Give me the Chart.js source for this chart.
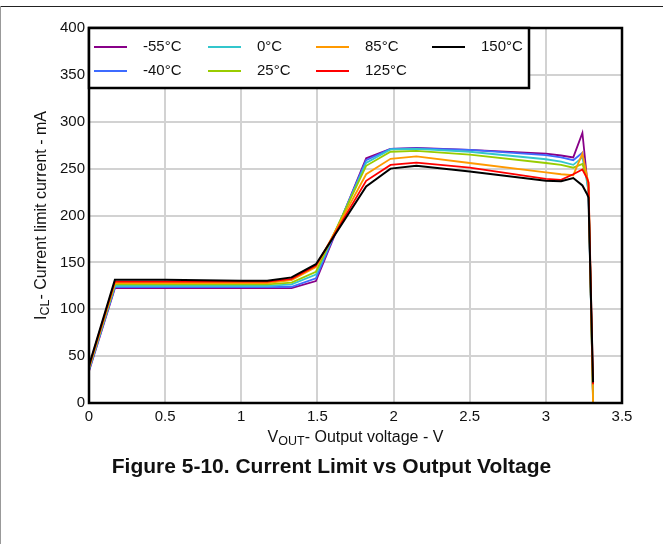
<!DOCTYPE html>
<html>
<head>
<meta charset="utf-8">
<script src="https://cdn.jsdelivr.net/npm/chart.js@4"></script>
<style>
  html, body { margin: 0; padding: 0; background: #fff; }
  #wrap { position: relative; width: 663px; height: 544px; overflow: hidden; }
  #topline { position: absolute; left: 0; top: 6px; width: 663px; height: 0; border-top: 1.5px solid #222; }
  #leftline { position: absolute; left: 0; top: 6px; width: 0; height: 538px; border-left: 1.5px solid #999; }
  #myChart { position: absolute; left: 0; top: 0; }
  #caption { position: absolute; left: 0; width: 663px; top: 454px; text-align: center;
             font: bold 21px "Liberation Sans", Arial, sans-serif; color: #111; }
</style>
</head>
<body>
<div id="wrap">
  <canvas id="myChart" width="663" height="544"></canvas>
  <div id="topline"></div>
  <div id="leftline"></div>
  <div id="caption">Figure 5-10. Current Limit vs Output Voltage</div>
</div>
<script>
// Output voltage (V) sample points
const volts = [0, 0.17, 0.5, 1.0, 1.17, 1.33, 1.49, 1.82, 1.98, 2.15, 2.5, 3.0, 3.1, 3.18, 3.24, 3.27, 3.28, 3.31];

// current limit (mA) per temperature
const labels = ['-55°C', '-40°C', '0°C', '25°C', '85°C', '125°C', '150°C'];
const cur_m55 = [34, 122.5, 122.5, 122.5, 122.5, 122.5, 130, 261, 271, 272, 270, 266, 264, 262, 288, 240, 228, 5];
const cur_m40 = [35, 123.5, 123.5, 123.5, 123.5, 124, 133, 259, 271, 271.5, 270, 264.5, 262, 259, 267, 238, 225, 5];
const cur_0   = [36, 125, 125, 125, 125, 126.5, 137, 256, 270.5, 271, 268, 260, 257.5, 254, 262, 236, 226, 3];
const cur_25  = [37, 126.5, 126.5, 126.5, 126.5, 128.5, 140, 253, 268, 269, 265, 256, 254, 251, 255, 240, 232, 0];
const cur_85  = [38, 128, 128, 128, 128, 131, 145, 244, 260.5, 263, 256, 246, 244, 243, 266, 242, 235, 0];
const cur_125 = [39, 129.5, 129.5, 129.5, 129.5, 132.5, 146.5, 237, 254, 256.5, 251, 239, 238, 244, 249, 240, 235, 20];
const cur_150 = [40, 131.5, 131.5, 130.5, 130.5, 134, 148, 231, 250, 253, 247, 237, 236.5, 240, 232, 223, 219, 22];

const colors = ['#880088', '#3D6BFF', '#33C6CC', '#99CC00', '#FF9900', '#FF0000', '#000000'];
const series = [cur_m55, cur_m40, cur_0, cur_25, cur_85, cur_125, cur_150];

const xTicks = [0, 0.5, 1, 1.5, 2, 2.5, 3, 3.5];
const yTicks = [0, 50, 100, 150, 200, 250, 300, 350, 400];

const FONT = '"Liberation Sans", Arial, sans-serif';

const datasets = series.map(function (s, i) {
  return {
    label: labels[i],
    data: s.map(function (v, j) { return { x: volts[j], y: v }; }),
    borderColor: colors[i],
    backgroundColor: colors[i],
    borderWidth: i == 6 ? 2 : 1.8,
    pointRadius: 0,
    tension: 0,
    order: series.length - i
  };
});

// frame, legend box and axis titles with subscripts
const decor = {
  id: 'decor',
  afterDraw(chart) {
    const ctx = chart.ctx;
    const a = chart.chartArea;
    ctx.save();
    ctx.strokeStyle = '#000';
    ctx.lineWidth = 2.5;
    ctx.strokeRect(a.left, a.top, a.right - a.left, a.bottom - a.top);

    // legend
    const lx = a.left, ly = a.top, lw = 440, lh = 60;
    ctx.fillStyle = '#fff';
    ctx.fillRect(lx, ly, lw, lh);
    ctx.strokeRect(lx, ly, lw, lh);
    const colX = [94, 208, 316, 432];
    const rowY = [47, 71];
    ctx.font = '15px ' + FONT;
    ctx.textBaseline = 'middle';
    chart.data.datasets.forEach(function (ds, i) {
      const x = colX[Math.floor(i / 2)], y = rowY[i % 2];
      ctx.strokeStyle = ds.borderColor;
      ctx.lineWidth = 2;
      ctx.beginPath();
      ctx.moveTo(x, y);
      ctx.lineTo(x + 33, y);
      ctx.stroke();
      ctx.fillStyle = '#111';
      ctx.fillText(ds.label, x + 49, y);
    });

    // x title
    ctx.fillStyle = '#111';
    ctx.textBaseline = 'alphabetic';
    const big = '16px ' + FONT, small = '12.5px ' + FONT;
    function parts(p) {
      let w = 0;
      p.forEach(function (q) { ctx.font = q[1]; w += ctx.measureText(q[0]).width; });
      return w;
    }
    const xt = [['V', big, 0], ['OUT', small, 3], ['- Output voltage - V', big, 0]];
    let w = parts(xt);
    let cx = (a.left + a.right) / 2 - w / 2;
    xt.forEach(function (q) {
      ctx.font = q[1];
      ctx.fillText(q[0], cx, 442 + q[2]);
      cx += ctx.measureText(q[0]).width;
    });

    // y title
    const yt = [['I', big, 0], ['CL', small, 3], ['- Current limit current - mA', big, 0]];
    w = parts(yt);
    ctx.translate(46, (a.top + a.bottom) / 2);
    ctx.rotate(-Math.PI / 2);
    cx = -w / 2;
    yt.forEach(function (q) {
      ctx.font = q[1];
      ctx.fillText(q[0], cx, 0 + q[2]);
      cx += ctx.measureText(q[0]).width;
    });
    ctx.restore();
  }
};

const config = {
  type: 'line',
  data: { datasets: datasets },
  options: {
    responsive: false,
    animation: false,
    layout: { padding: { left: 0, top: 28, right: 41, bottom: 91 } },
    plugins: { legend: { display: false }, tooltip: { enabled: false } },
    scales: {
      x: {
        type: 'linear', min: 0, max: 3.5,
        afterBuildTicks: function (s) { s.ticks = xTicks.map(function (v) { return { value: v }; }); },
        afterFit: function (s) { s.height = 50; },
        grid: { color: '#d2d2d2', lineWidth: 2, drawTicks: false },
        border: { display: false },
        ticks: { color: '#111', padding: 5, font: { family: FONT, size: 15 }, maxRotation: 0,
                 callback: function (v) { return String(v); } }
      },
      y: {
        min: 0, max: 400,
        afterBuildTicks: function (s) { s.ticks = yTicks.map(function (v) { return { value: v }; }); },
        afterFit: function (s) { s.width = 89; },
        grid: { color: '#d2d2d2', lineWidth: 2, drawTicks: false },
        border: { display: false },
        ticks: { color: '#111', padding: 4, font: { family: FONT, size: 15 } }
      }
    }
  },
  plugins: [decor]
};

const myChart = new Chart(document.getElementById('myChart'), config);
</script>
</body>
</html>
